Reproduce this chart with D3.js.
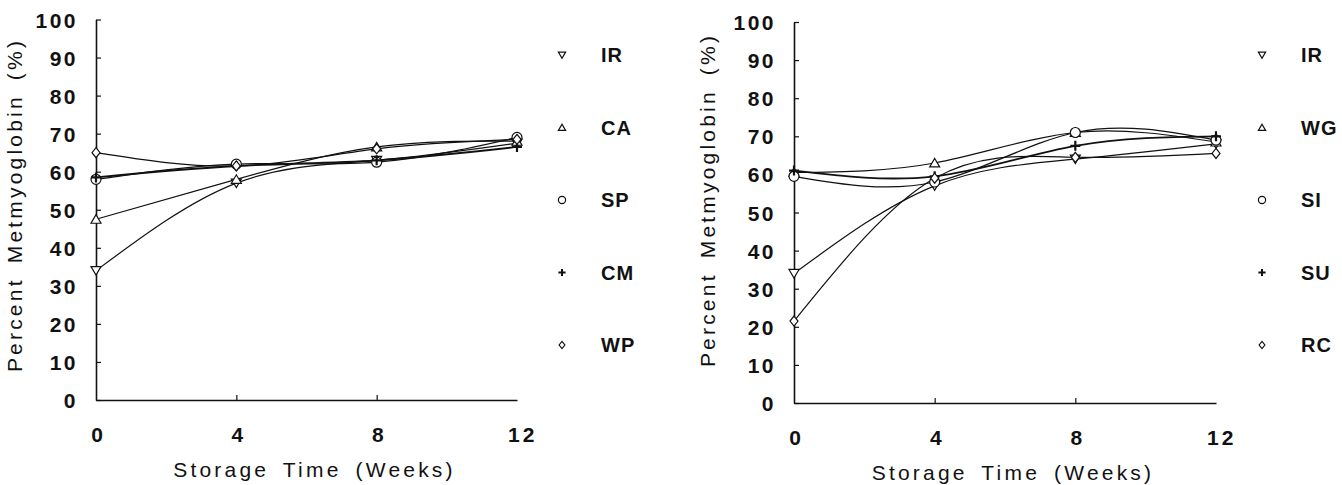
<!DOCTYPE html>
<html>
<head>
<meta charset="utf-8">
<script src="https://cdn.jsdelivr.net/npm/d3@7"></script>
<style>
  html, body { margin: 0; padding: 0; background: #fff; }
  svg { display: block; }
  text { font-family: "Liberation Sans", Arial, sans-serif; fill: #111; }
</style>
</head>
<body>
<svg id="chart" width="1342" height="485"></svg>
<script>
// ---- Data ----
const weeks = [0, 4, 8, 12];
const yTicks = [0, 10, 20, 30, 40, 50, 60, 70, 80, 90, 100];
const xTicks = [0, 4, 8, 12];
const xTitle = "Storage Time (Weeks)";
const yTitle = "Percent Metmyoglobin (%)";

// Left panel
const leftNames = ["IR", "CA", "SP", "CM", "WP"];
const leftIR = [34, 57, 63, 67.5];
const leftCA = [47.5, 58, 66.5, 68];
const leftSP = [58, 62, 62.5, 69];
const leftCM = [58.5, 61.5, 63, 66.5];
const leftWP = [65, 61.5, 66, 68.5];

// Right panel
const rightNames = ["IR", "WG", "SI", "SU", "RC"];
const rightIR = [34, 57, 64, 68];
const rightWG = [60.5, 63, 71, 68.5];
const rightSI = [59.5, 58, 71, 69];
const rightSU = [61, 59.5, 67.5, 70];
const rightRC = [21.5, 59, 64.5, 65.5];

const symbolNames = ["triDown", "triUp", "circle", "plus", "diamond"];

// ---- Drawing ----
const svg = d3.select("#chart");

function symbolPath(kind, size) {
  const s = size;
  switch (kind) {
    case "triDown": return `M${-s},${-s*0.8}L${s},${-s*0.8}L0,${s*0.9}Z`;
    case "triUp": return `M${-s},${s*0.8}L${s},${s*0.8}L0,${-s*0.9}Z`;
    case "circle": return d3.symbol(d3.symbolCircle, Math.PI * s * s)();
    case "diamond": return `M0,${-s}L${s*0.8},0L0,${s}L${-s*0.8},0Z`;
    case "plus": return `M${-s},0L${s},0M0,${-s}L0,${s}`;
  }
}

function drawPanel(cfg) {
  const x = d3.scaleLinear().domain([0, 12]).range([cfg.x0, cfg.x1]);
  const y = d3.scaleLinear().domain([0, 100]).range([cfg.y0, cfg.y1]);
  const g = svg.append("g");

  // Y axis
  const yAxis = d3.axisLeft(y).tickValues(yTicks).tickSizeInner(-5).tickSizeOuter(0).tickPadding(18);
  const ya = g.append("g").attr("transform", `translate(${cfg.x0},0)`).call(yAxis);
  ya.select(".domain").attr("stroke", "#111").attr("stroke-width", 1.6);
  ya.selectAll(".tick line").attr("stroke", "#111").attr("stroke-width", 1.2);
  ya.selectAll(".tick text").attr("font-size", 21).attr("font-weight", "bold").attr("fill", "#111")
    .attr("font-family", "Liberation Sans, Arial, sans-serif")
    .style("letter-spacing", "2.5px").attr("dy", "0.36em");

  // X axis
  const xAxis = d3.axisBottom(x).tickValues(xTicks).tickSizeInner(-5).tickSizeOuter(0).tickPadding(27);
  const xa = g.append("g").attr("transform", `translate(0,${cfg.y0})`).call(xAxis);
  xa.select(".domain").attr("stroke", "#111").attr("stroke-width", 1.6);
  xa.selectAll(".tick line").attr("stroke", "#111").attr("stroke-width", 1.2)
    .attr("display", d => (d === 0 || d === 12) ? "none" : null);
  xa.selectAll(".tick text").attr("font-size", 21).attr("font-weight", "bold").attr("fill", "#111")
    .attr("font-family", "Liberation Sans, Arial, sans-serif")
    .style("letter-spacing", "3px").attr("dx", d => d === 12 ? "0.25em" : "0.1em");

  // Titles
  g.append("text")
    .attr("x", (cfg.x0 + cfg.x1) / 2 + 8).attr("y", cfg.y0 + 77)
    .attr("text-anchor", "middle").attr("font-size", 21)
    .style("letter-spacing", "3.2px").style("word-spacing", "5px")
    .text(xTitle);
  g.append("text")
    .attr("transform", `translate(${cfg.titleX},${cfg.titleY}) rotate(-90)`)
    .attr("text-anchor", "middle").attr("font-size", 21)
    .style("letter-spacing", "3.2px").style("word-spacing", "5px")
    .text(yTitle);

  // Lines
  const line = d3.line().x((d, i) => x(weeks[i])).y(d => y(d)).curve(d3.curveNatural);
  cfg.series.forEach((s, k) => {
    g.append("path").datum(s).attr("d", line)
      .attr("fill", "none").attr("stroke", "#111").attr("stroke-width", k === 3 ? 1.8 : 1.2);
  });

  // Markers
  cfg.series.forEach((s, k) => {
    const kind = symbolNames[k];
    g.selectAll(null).data(s).enter().append("path")
      .attr("transform", (d, i) => `translate(${x(weeks[i])},${y(d)})`)
      .attr("d", symbolPath(kind, 5))
      .attr("fill", kind === "plus" ? "none" : "#fff")
      .attr("stroke", "#111").attr("stroke-width", kind === "plus" ? 2.2 : 1.2);
  });

  // Legend
  cfg.names.forEach((n, k) => {
    const ly = 55 + k * 72.5;
    const kind = symbolNames[k];
    g.append("path")
      .attr("transform", `translate(${cfg.legX},${ly})`)
      .attr("d", symbolPath(kind, 3.6))
      .attr("fill", kind === "plus" ? "none" : "#fff")
      .attr("stroke", "#111").attr("stroke-width", kind === "plus" ? 2 : 1.2);
    g.append("text").attr("x", cfg.legX + 39).attr("y", ly).attr("dy", "0.36em")
      .attr("font-size", 20).attr("font-weight", "bold").style("letter-spacing", "1px").text(n);
  });
}

drawPanel({
  x0: 96, x1: 517, y0: 400, y1: 19.5, titleX: 22, titleY: 205, legX: 562,
  names: leftNames, series: [leftIR, leftCA, leftSP, leftCM, leftWP]
});
drawPanel({
  x0: 794, x1: 1216, y0: 403, y1: 22, titleX: 715, titleY: 200, legX: 1262,
  names: rightNames, series: [rightIR, rightWG, rightSI, rightSU, rightRC]
});
</script>
</body>
</html>
